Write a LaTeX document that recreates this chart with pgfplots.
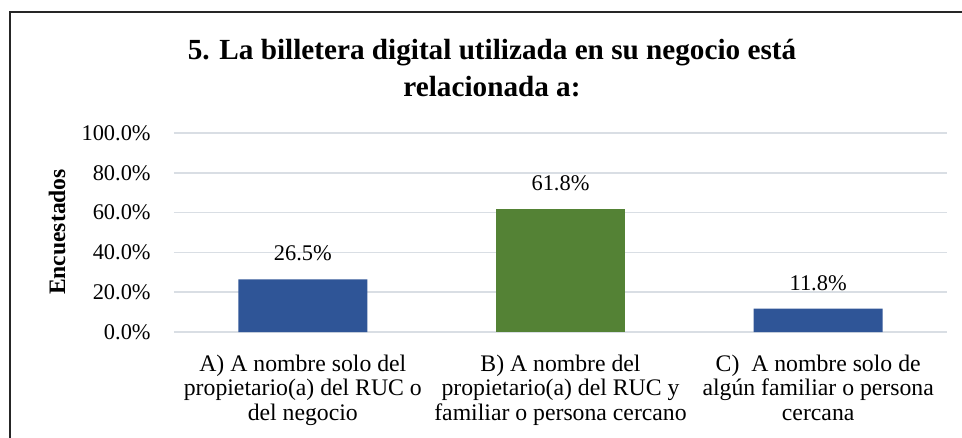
\documentclass[border=0pt]{standalone}
\usepackage{fontspec}
\setmainfont{Liberation Serif}
\usepackage{pgfplots}
\pgfplotsset{compat=1.18}
\definecolor{barblue}{RGB}{47,85,151}
\definecolor{bargreen}{RGB}{84,130,53}
\definecolor{gridc}{RGB}{217,222,228}
\begin{document}
\begin{tikzpicture}
\path[use as bounding box] (-130.5pt,-78.75pt) rectangle (591pt,249pt);
\begin{axis}[
  at={(0pt,0pt)}, anchor=south west,
  scale only axis, width=579.75pt, height=149.25pt,
  ymin=0, ymax=100, xmin=-0.5, xmax=2.5,
  ybar, bar width=96.75pt,
  axis line style={draw=none},
  major tick length=0pt,
  ymajorgrids, grid style={gridc, line width=1.3pt},
  ytick={0,20,40,60,80,100},
  yticklabels={0.0\%,20.0\%,40.0\%,60.0\%,80.0\%,100.0\%},
  yticklabel style={font=\fontsize{16.8}{18}\selectfont, xshift=-14pt},
  xtick={0,1,2},
  xticklabels={{A) A nombre solo del\\propietario(a) del RUC o\\del negocio},
               {B) A nombre del\\propietario(a) del RUC y\\familiar o persona cercano},
               {C)\ \ A nombre solo de\\algún familiar o persona\\cercana}},
  xticklabel style={font=\fontsize{17.8}{18.4}\selectfont, align=center, anchor=north, yshift=-13.5pt},
  /pgf/number format/assume math mode=true,
  nodes near coords={\pgfmathprintnumber[fixed,precision=1,fixed zerofill,assume math mode=true]{\pgfplotspointmeta}\%},
  nodes near coords style={font=\fontsize{16.8}{18}\selectfont, anchor=south, yshift=10pt},
]
\addplot[fill=barblue, draw=none, bar shift=0pt] coordinates {(0,26.5) (2,11.8)};
\addplot[fill=bargreen, draw=none, bar shift=0pt] coordinates {(1,61.8)};
\end{axis}
\node[align=center, font=\bfseries\fontsize{21.9}{27.75}\selectfont] at (238.5pt,197.6pt)
  {5. La billetera digital utilizada en su negocio está\\relacionada a:};
\node[rotate=90, font=\bfseries\fontsize{17.7}{20}\selectfont] at (-87.75pt,75pt) {Encuestados};
\draw[line width=1.1pt, black!85] (-123pt,-80pt) -- (-123pt,240pt) -- (595pt,240pt);
\end{tikzpicture}
\end{document}
